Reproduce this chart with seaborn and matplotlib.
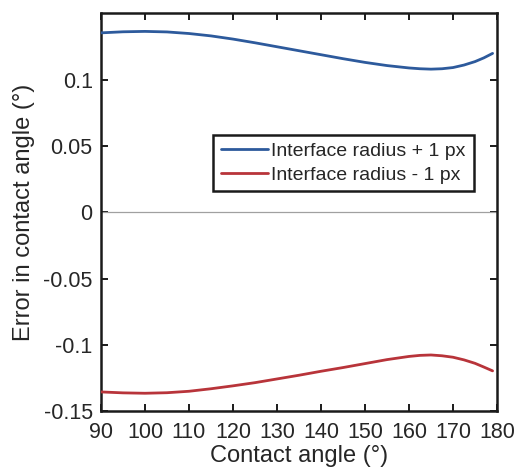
import numpy as np
import pandas as pd
import matplotlib
matplotlib.use("Agg")
import matplotlib.pyplot as plt
import seaborn as sns

# Contact angle (deg) and resulting error (deg) for +/- 1 px interface radius
angle = [90, 95, 100, 105, 110, 115, 120, 125, 130, 135, 140, 145, 150, 155,
         160, 162.5, 165, 167.5, 170, 172.5, 175, 177, 179]
err_plus = [0.1355, 0.1363, 0.1366, 0.1362, 0.1350, 0.1332, 0.1308, 0.1280,
            0.1250, 0.1220, 0.1190, 0.1160, 0.1132, 0.1108, 0.1090, 0.1084,
            0.1081, 0.1084, 0.1093, 0.1112, 0.1138, 0.1166, 0.1200]
err_minus = [-0.1356, -0.1363, -0.1366, -0.1362, -0.1351, -0.1332, -0.1310,
             -0.1286, -0.1258, -0.1230, -0.1200, -0.1172, -0.1142, -0.1112,
             -0.1088, -0.1080, -0.1077, -0.1083, -0.1094, -0.1114, -0.1140,
             -0.1168, -0.1197]
series_names = ["Interface radius + 1 px", "Interface radius - 1 px"]
x_ticks = [90, 100, 110, 120, 130, 140, 150, 160, 170, 180]
y_ticks = [-0.15, -0.1, -0.05, 0, 0.05, 0.1]
y_ticklabels = ["-0.15", "-0.1", "-0.05", "0", "0.05", "0.1"]

df = pd.DataFrame({
    "angle": angle * 2,
    "error": err_plus + err_minus,
    "series": [series_names[0]] * len(angle) + [series_names[1]] * len(angle),
})

sns.set_theme(style="ticks")
plt.rcParams["font.family"] = ["Liberation Sans", "DejaVu Sans"]
text_color = "#262626"
plt.rcParams["text.color"] = text_color
plt.rcParams["axes.labelcolor"] = text_color

fig = plt.figure(figsize=(5.19, 4.74), dpi=100)
ax = fig.add_axes([0.1946, 0.1329, 0.7630, 0.8397])

ax.axhline(0, color="#a0a0a0", lw=0.9, zorder=1)
sns.lineplot(data=df, x="angle", y="error", hue="series",
             palette=["#2d5a9c", "#b8343a"], linewidth=2.0, ax=ax,
             sort=False, zorder=3)

ax.set_xlim(90, 180)
ax.set_ylim(-0.15, 0.1505)
ax.set_xticks(x_ticks)
ax.set_yticks(y_ticks)
ax.set_yticklabels(y_ticklabels)
ax.tick_params(direction="in", length=5, width=1.4, labelsize=15.5,
               top=True, right=True, colors="#1a1a1a",
               labelcolor=text_color)
ax.tick_params(axis="x", pad=8)
ax.tick_params(axis="y", pad=6)
for sp in ax.spines.values():
    sp.set_visible(True)
    sp.set_linewidth(1.8)
    sp.set_color("#1a1a1a")

ax.set_xlabel("Contact angle (°)", fontsize=17, labelpad=1)
ax.set_ylabel("Error in contact angle (°)", fontsize=17, labelpad=6)

leg = ax.legend(loc="upper left", bbox_to_anchor=(0.283, 0.694),
                fontsize=14, frameon=True, fancybox=False,
                handlelength=2.45, handletextpad=0.15, borderpad=0.4,
                labelspacing=0.3, borderaxespad=0)
leg.get_frame().set_edgecolor("#1a1a1a")
leg.get_frame().set_linewidth(1.8)
leg.get_frame().set_alpha(1)
for line in leg.get_lines():
    line.set_linewidth(2.0)

fig.savefig("out.png", dpi=100)
